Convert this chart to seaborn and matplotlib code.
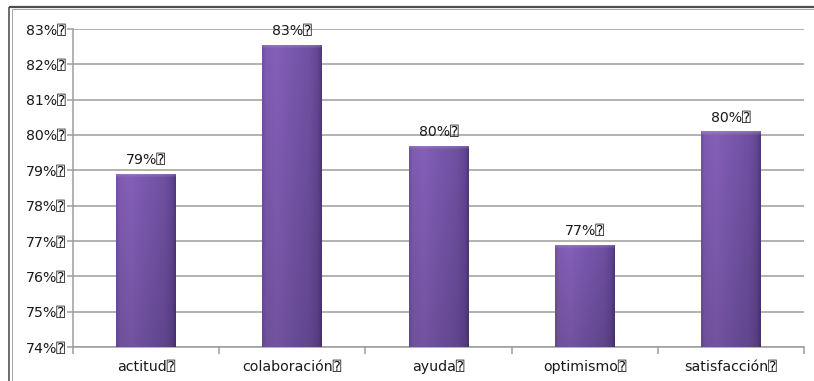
import numpy as np
import pandas as pd
import matplotlib
matplotlib.use("Agg")
import matplotlib.pyplot as plt
import seaborn as sns
from matplotlib.lines import Line2D
from matplotlib.ticker import FixedLocator, FuncFormatter
from matplotlib.colors import to_rgb

# Datos
categorias = ["actitud", "colaboración", "ayuda", "optimismo", "satisfacción"]
valores = [0.789, 0.8255, 0.797, 0.769, 0.801]
marcas_y = [0.74, 0.75, 0.76, 0.77, 0.78, 0.79, 0.80, 0.81, 0.82, 0.83]
sufijo = "\u2370"

sns.set_theme(style="white")
plt.rcParams["font.family"] = ["DejaVu Sans", "DejaVu Sans Mono"]
tam = 10.2

W, H = 814, 381
fig = plt.figure(figsize=(W / 100, H / 100), dpi=100)
fig.patch.set_facecolor("white")
ax = fig.add_axes([73 / W, 1 - 347 / H, (804 - 73) / W, (347 - 29) / H])

df = pd.DataFrame({"categoria": categorias, "valor": valores})
sns.barplot(data=df, x="categoria", y="valor", ax=ax, width=0.41,
            color="#7352a6", saturation=1, edgecolor="none", zorder=3)

ax.set_ylim(marcas_y[0], marcas_y[-1])
ax.set_xlim(-0.5, len(categorias) - 0.5)
ax.set_xlabel("")
ax.set_ylabel("")

# Ejes y rejilla
gris = "#9c9c9c"
ax.yaxis.set_major_locator(FixedLocator(marcas_y))
ax.yaxis.set_major_formatter(FuncFormatter(lambda v, p: f"{v * 100:.0f}%{sufijo}"))
ax.yaxis.grid(True, color=gris, linewidth=1.1, zorder=0)
ax.set_axisbelow(True)
for s in ["top", "right"]:
    ax.spines[s].set_visible(False)
for s in ["left", "bottom"]:
    ax.spines[s].set_color(gris)
    ax.spines[s].set_linewidth(1.1)
ax.tick_params(axis="y", which="major", left=True, length=4, width=1.1,
               color=gris, direction="out", pad=1, labelsize=tam,
               labelcolor="#1a1a1a")
ax.set_xticks(range(len(categorias)))
ax.set_xticklabels([c + sufijo for c in categorias])
ax.xaxis.set_minor_locator(FixedLocator(np.arange(-0.5, len(categorias), 1.0)))
ax.tick_params(axis="x", which="major", bottom=False, length=0, pad=9,
               labelsize=tam, labelcolor="#1a1a1a")
ax.tick_params(axis="x", which="minor", bottom=True, length=5, width=1.1,
               color=gris, direction="out")

# Relleno degradado de las barras
perfil_t = [0.0, 0.06, 0.25, 0.5, 0.8, 0.94, 1.0]
perfil_c = ["#6c4c9c", "#7857a8", "#7d5aae", "#7253a4", "#694c99", "#5d428b", "#4b3675"]
perfil_rgb = np.array([to_rgb(c) for c in perfil_c])

fig.canvas.draw()
for patch in ax.patches:
    x0 = patch.get_x()
    w = patch.get_width()
    h = patch.get_height()
    p0 = ax.transData.transform((x0, marcas_y[0]))
    p1 = ax.transData.transform((x0 + w, h))
    npx = max(int(round(p1[0] - p0[0])), 2)
    npy = max(int(round(p1[1] - p0[1])), 2)
    t = np.linspace(0, 1, npx)
    fila = np.stack([np.interp(t, perfil_t, perfil_rgb[:, k]) for k in range(3)], axis=1)
    # oscurecer hacia la base
    v = np.linspace(0, 1, npy)[:, None, None]  # 0 arriba, 1 abajo
    img = fila[None, :, :] * (1.06 - 0.14 * v)
    # bisel superior
    bisel = np.clip(1 - np.arange(npy) / 4.0, 0, 1)[:, None, None]
    img = img * (1 - 0.45 * bisel) + np.array(to_rgb("#b49be0"))[None, None, :] * 0.45 * bisel
    img = np.clip(img, 0, 1)
    im = ax.imshow(img, extent=(x0, x0 + w, marcas_y[0], h), aspect="auto",
                   origin="upper", zorder=4, interpolation="bilinear")
    im.set_clip_path(patch)

ax.set_xlim(-0.5, len(categorias) - 0.5)
ax.set_ylim(marcas_y[0], marcas_y[-1])

# Etiquetas de valor
for i, v in enumerate(valores):
    ax.annotate(f"{v * 100:.0f}%{sufijo}", (i, v), xytext=(0, 5),
                textcoords="offset points", ha="center", va="bottom",
                fontsize=tam, color="#1a1a1a", zorder=6, annotation_clip=False)

# Marco exterior
def px(x, y):
    return x / W, 1 - y / H

for (xa, ya, xb, yb, c, lw) in [
    (9, 6.5, 9, H, "#4d4d4d", 1.6),
    (11.5, 9, 11.5, H, "#a8a8a8", 1.0),
    (9, 6.5, W, 6.5, "#4d4d4d", 2.2),
    (11.5, 9.2, W, 9.2, "#a8a8a8", 1.0),
]:
    (fx0, fy0), (fx1, fy1) = px(xa, ya), px(xb, yb)
    fig.add_artist(Line2D([fx0, fx1], [fy0, fy1], transform=fig.transFigure,
                          color=c, linewidth=lw * 0.72, solid_capstyle="butt"))

fig.savefig("out.png", dpi=100)
